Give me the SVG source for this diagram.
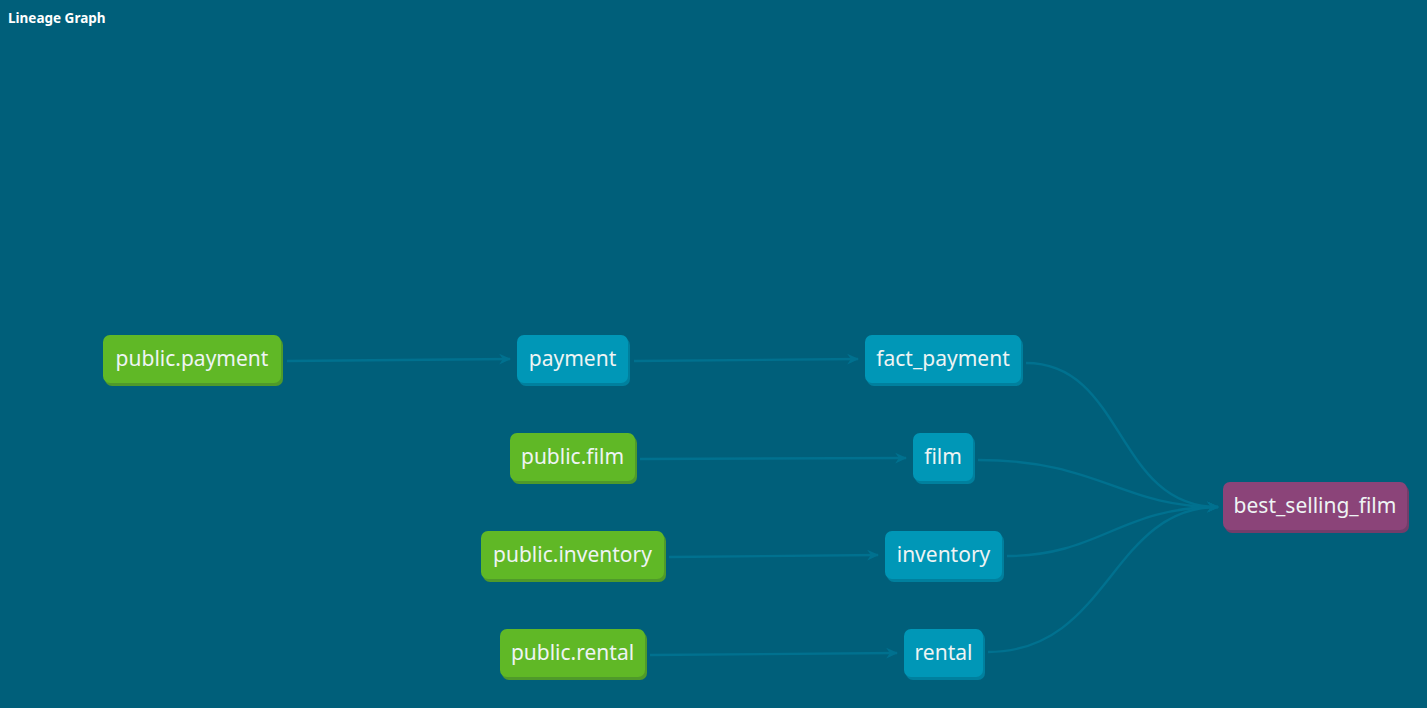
<svg xmlns="http://www.w3.org/2000/svg" width="1427" height="708" viewBox="0 0 1427 708">
<defs>
<style>
.title{font-family:"Noto Sans","Open Sans",sans-serif;font-size:13.5px;font-weight:bold;fill:#ffffff}
.lbl{font-family:"Noto Sans","Open Sans",sans-serif;font-size:21px;fill:#eef4f4;text-anchor:middle;dominant-baseline:central}
.src rect.b{fill:#60b826}
.src rect.s{fill:#4f9a2a}
.mdl rect.b{fill:#0097b7}
.mdl rect.s{fill:#00809e}
.out rect.b{fill:#8b4479}
.out rect.s{fill:#723d6a}
.edge{fill:none;stroke:#00718f;stroke-width:2.4}
</style>
<marker id="arr" viewBox="0 0 10 10" refX="9" refY="5" markerWidth="12" markerHeight="12" markerUnits="userSpaceOnUse" orient="auto">
<path d="M0,0.5 L10,5 L0,9.5 L3,5 Z" fill="#00718f"/>
</marker>
</defs>
<rect width="1427" height="708" fill="#005f7a"/>
<text class="title" x="8" y="23">Lineage Graph</text>
<g id="connectors">
<path class="edge" marker-end="url(#arr)" d="M287,361 L510,359"/>
<path class="edge" marker-end="url(#arr)" d="M634,361 L858,359"/>
<path class="edge" marker-end="url(#arr)" d="M640,459 L906,458"/>
<path class="edge" marker-end="url(#arr)" d="M669,557 L878,555"/>
<path class="edge" marker-end="url(#arr)" d="M650,655 L897,653"/>
<path class="edge" marker-end="url(#arr)" d="M1026,363 C1125,363 1115,507 1218,507"/>
<path class="edge" marker-end="url(#arr)" d="M978,460 C1100,460 1120,507 1218,507"/>
<path class="edge" marker-end="url(#arr)" d="M1007,556 C1100,556 1120,507 1218,507"/>
<path class="edge" marker-end="url(#arr)" d="M988,652 C1110,652 1110,507 1218,507"/>
</g>
<g id="node-public-payment" class="src">
<rect class="s" x="105" y="338" width="178" height="48" rx="7"/>
<rect class="b" x="103" y="335" width="178" height="48" rx="7"/>
<text class="lbl" x="192" y="358">public.payment</text>
</g>
<g id="node-payment" class="mdl">
<rect class="s" x="519" y="338" width="111" height="48" rx="7"/>
<rect class="b" x="517" y="335" width="111" height="48" rx="7"/>
<text class="lbl" x="572.5" y="358">payment</text>
</g>
<g id="node-fact-payment" class="mdl">
<rect class="s" x="867" y="338" width="156" height="48" rx="7"/>
<rect class="b" x="865" y="335" width="156" height="48" rx="7"/>
<text class="lbl" x="943" y="358">fact_payment</text>
</g>
<g id="node-public-film" class="src">
<rect class="s" x="512" y="436" width="125" height="48" rx="7"/>
<rect class="b" x="510" y="433" width="125" height="48" rx="7"/>
<text class="lbl" x="572.5" y="456">public.film</text>
</g>
<g id="node-film" class="mdl">
<rect class="s" x="915" y="436" width="60" height="48" rx="7"/>
<rect class="b" x="913" y="433" width="60" height="48" rx="7"/>
<text class="lbl" x="943" y="456">film</text>
</g>
<g id="node-public-inventory" class="src">
<rect class="s" x="483" y="534" width="183" height="48" rx="7"/>
<rect class="b" x="481" y="531" width="183" height="48" rx="7"/>
<text class="lbl" x="572.5" y="554">public.inventory</text>
</g>
<g id="node-inventory" class="mdl">
<rect class="s" x="887" y="534" width="117" height="48" rx="7"/>
<rect class="b" x="885" y="531" width="117" height="48" rx="7"/>
<text class="lbl" x="943.5" y="554">inventory</text>
</g>
<g id="node-public-rental" class="src">
<rect class="s" x="502" y="632" width="145" height="48" rx="7"/>
<rect class="b" x="500" y="629" width="145" height="48" rx="7"/>
<text class="lbl" x="572.5" y="652">public.rental</text>
</g>
<g id="node-rental" class="mdl">
<rect class="s" x="906" y="632" width="79" height="48" rx="7"/>
<rect class="b" x="904" y="629" width="79" height="48" rx="7"/>
<text class="lbl" x="943.5" y="652">rental</text>
</g>
<g id="node-best-selling-film" class="out">
<rect class="s" x="1225" y="485" width="184" height="48" rx="7"/>
<rect class="b" x="1223" y="482" width="184" height="48" rx="7"/>
<text class="lbl" x="1315" y="505">best_selling_film</text>
</g>
</svg>
